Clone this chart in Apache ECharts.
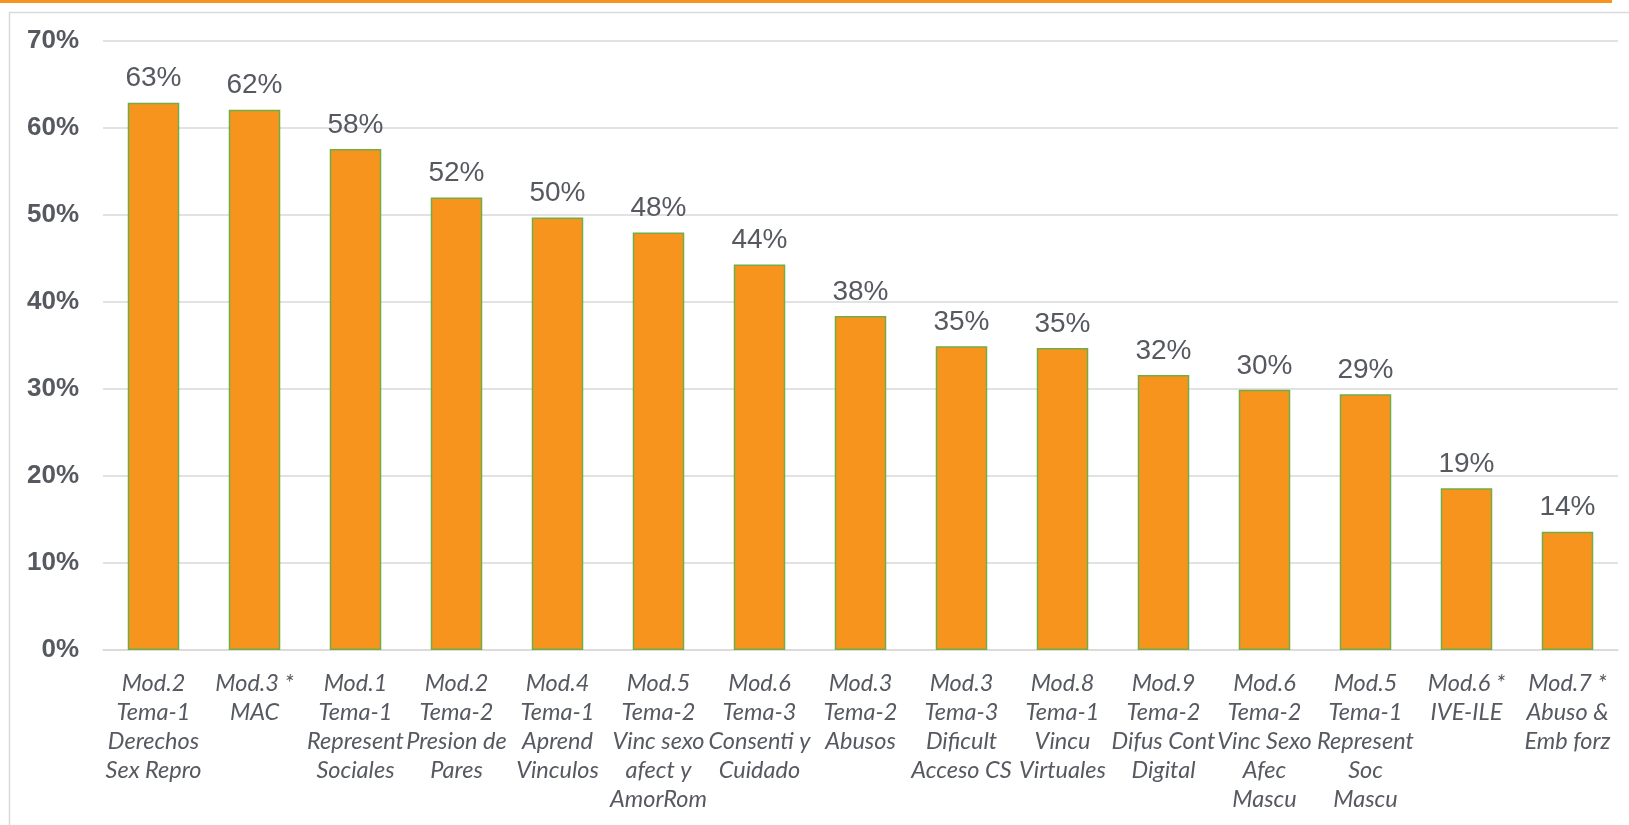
<!DOCTYPE html>
<html>
<head>
<meta charset="utf-8">
<script src="https://cdn.jsdelivr.net/npm/echarts@6/dist/echarts.min.js"></script>
<style>
html,body{margin:0;padding:0;background:#fff;}
#chart{width:1629px;height:825px;}
</style>
</head>
<body>
<div id="chart"></div>
<script>
const categories = [
  "Mod.2\nTema-1\nDerechos\nSex Repro",
  "Mod.3 *\nMAC",
  "Mod.1\nTema-1\nRepresent\nSociales",
  "Mod.2\nTema-2\nPresion de\nPares",
  "Mod.4\nTema-1\nAprend\nVinculos",
  "Mod.5\nTema-2\nVinc sexo\nafect y\nAmorRom",
  "Mod.6\nTema-3\nConsenti y\nCuidado",
  "Mod.3\nTema-2\nAbusos",
  "Mod.3\nTema-3\nDificult\nAcceso CS",
  "Mod.8\nTema-1\nVincu\nVirtuales",
  "Mod.9\nTema-2\nDifus Cont\nDigital",
  "Mod.6\nTema-2\nVinc Sexo\nAfec\nMascu",
  "Mod.5\nTema-1\nRepresent\nSoc\nMascu",
  "Mod.6 *\nIVE-ILE",
  "Mod.7 *\nAbuso &\nEmb forz"
];
const values = [0.629, 0.621, 0.576, 0.520, 0.497, 0.480, 0.443, 0.384, 0.349, 0.347, 0.316, 0.299, 0.294, 0.186, 0.136];
const yTicks = { min: 0, max: 0.7, interval: 0.1 };

const chart = echarts.init(document.getElementById('chart'), null, { renderer: 'canvas' });
chart.setOption({
  animation: false,
  backgroundColor: '#ffffff',
  graphic: [
    { type: 'rect', left: 0, top: 0, shape: { x: 0, y: 0, width: 1612, height: 3 }, style: { fill: '#F7941D' }, z: 10 },
    { type: 'rect', shape: { x: 9.5, y: 12.5, width: 1640, height: 830 }, style: { fill: 'none', stroke: '#d9d9d9', lineWidth: 1.5 }, z: -1 }
  ],
  grid: { left: 103, right: 11, top: 41, bottom: 175, containLabel: false },
  xAxis: {
    type: 'category',
    data: categories,
    axisTick: { show: false },
    axisLine: { show: true, lineStyle: { color: '#d9d9d9', width: 1.5 } },
    axisLabel: {
      interval: 0,
      margin: 19,
      color: '#565960',
      fontFamily: 'Lato',
      fontStyle: 'italic',
      fontSize: 23.5,
      lineHeight: 29
    }
  },
  yAxis: {
    type: 'value',
    min: yTicks.min,
    max: yTicks.max,
    interval: yTicks.interval,
    axisLine: { show: false },
    axisTick: { show: false },
    splitLine: { lineStyle: { color: '#d9d9d9', width: 1.5 } },
    axisLabel: {
      margin: 24,
      color: '#565960',
      fontFamily: 'Liberation Sans',
      fontWeight: 'bold',
      fontSize: 26,
      formatter: v => Math.round(v * 100) + '%'
    }
  },
  series: [{
    type: 'bar',
    data: values,
    barWidth: '51%',
    itemStyle: { color: '#F7941D', borderColor: '#70AD47', borderWidth: 1.5 },
    label: {
      show: true,
      position: 'top',
      distance: 10,
      color: '#565960',
      fontFamily: 'Liberation Sans',
      fontSize: 28,
      formatter: p => Math.round(p.value * 100) + '%'
    }
  }]
});
</script>
</body>
</html>
